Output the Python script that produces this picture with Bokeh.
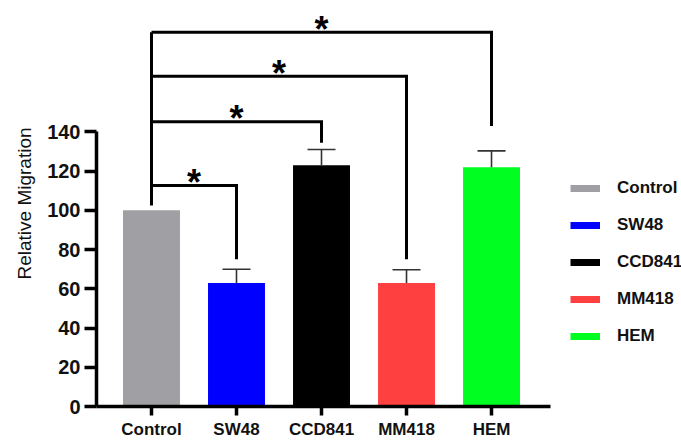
from bokeh.plotting import figure
from bokeh.models import Range1d, FixedTicker, Legend, LegendItem, ColumnDataSource
from bokeh.core.properties import value
from bokeh.embed import file_html
from bokeh.resources import INLINE

# ---- data ----
categories = ["Control", "SW48", "CCD841", "MM418", "HEM"]
means = [100, 63, 123, 63, 122]
errors = [0, 7, 8, 6.7, 8.3]
colors = ["#A0A0A4", "#0000FF", "#000000", "#FF4040", "#00FF20"]
y_ticks = [0, 20, 40, 60, 80, 100, 120, 140]

# significance brackets: Control vs each group
bracket_targets = ["SW48", "CCD841", "MM418", "HEM"]
bracket_levels = [112.6, 145.1, 168.4, 190.8]
bracket_ends = [75, 134.4, 75, 143]
bracket_start = 102.5
bracket_marks = ["*", "*", "*", "*"]

FONT = "Liberation Sans"
NAN = float("nan")

xs = list(range(len(categories)))

p = figure(width=681, height=441, output_backend="svg", toolbar_location=None,
           title=None, min_border_left=96, min_border_right=0,
           min_border_top=0, min_border_bottom=33)
p.x_range = Range1d(-0.647, 6.235)
p.y_range = Range1d(0, 206.96)
p.outline_line_color = None
p.xgrid.visible = False
p.ygrid.visible = False
p.background_fill_color = None
p.border_fill_color = "white"

# bars
src = ColumnDataSource(dict(x=xs, top=means, color=colors, name=categories))
p.vbar(x="x", top="top", width=0.67, bottom=0, fill_color="color",
       line_color=None, source=src)

# error bars (upper only)
ex = [x for x, e in zip(xs, errors) if e > 0]
ey0 = [m for m, e in zip(means, errors) if e > 0]
ey1 = [m + e for m, e in zip(means, errors) if e > 0]
p.segment(x0=ex, x1=ex, y0=ey0, y1=ey1, line_color="#333333", line_width=1.6)
p.scatter(x=ex, y=ey1, marker="dash", size=28, line_color="#333333", line_width=1.6)

# brackets
ctrl = categories.index("Control")
b_xs, b_ys = [], []
for tgt, lvl, end in zip(bracket_targets, bracket_levels, bracket_ends):
    ti = categories.index(tgt)
    b_xs.append([ctrl, ti, ti])
    b_ys.append([lvl, lvl, end])
b_xs.append([ctrl, ctrl])
b_ys.append([bracket_start, max(bracket_levels)])
p.multi_line(xs=b_xs, ys=b_ys, line_color="black", line_width=3,
             line_join="miter", line_cap="butt")

mid_x = [(ctrl + categories.index(t)) / 2 for t in bracket_targets]
p.text(x=mid_x, y=bracket_levels, text=bracket_marks, text_font=value(FONT),
       text_font_style="bold", text_font_size="36px", text_align="center",
       text_baseline="middle", y_offset=-3, text_color="black")

# axes
xa = p.xaxis[0]
xa.ticker = FixedTicker(ticks=xs)
xa.major_label_overrides = {i: c for i, c in zip(xs, categories)}
xa.bounds = (-0.647, 4.694)
xa.axis_line_width = 3.5
xa.axis_line_color = "black"
xa.major_tick_line_width = 3.5
xa.major_tick_out = 9
xa.major_tick_in = 0
xa.minor_tick_line_color = None
xa.major_label_standoff = 4
xa.major_label_text_font = FONT
xa.major_label_text_font_style = "bold"
xa.major_label_text_font_size = "17px"
xa.major_label_text_color = "#111111"

ya = p.yaxis[0]
ya.ticker = FixedTicker(ticks=y_ticks)
ya.bounds = (0, 140)
ya.axis_line_width = 3.5
ya.axis_line_color = "black"
ya.major_tick_line_width = 3.5
ya.major_tick_out = 12
ya.major_tick_in = 0
ya.minor_tick_line_color = None
ya.major_label_standoff = 4
ya.major_label_text_font = FONT
ya.major_label_text_font_style = "bold"
ya.major_label_text_font_size = "20px"
ya.major_label_text_color = "#111111"
ya.axis_label = "Relative Migration"
ya.axis_label_text_font = FONT
ya.axis_label_text_font_style = "normal"
ya.axis_label_text_font_size = "19px"
ya.axis_label_text_color = "#111111"
ya.axis_label_standoff = 9

# legend (swatches drawn by line renderers that hold no visible points)
items = []
for c, col in zip(categories, colors):
    r = p.line(x=[NAN], y=[NAN], line_color=col, line_width=7)
    items.append(LegendItem(label=c, renderers=[r]))
legend = Legend(items=items, location=(474, 60), glyph_width=30, glyph_height=20,
                label_height=20, spacing=17, label_standoff=17, padding=0, margin=0,
                border_line_color=None, background_fill_alpha=0,
                label_text_font=FONT, label_text_font_style="bold",
                label_text_font_size="17px", label_text_color="#111111")
p.add_layout(legend, "center")

open("out.html", "w").write(file_html(p, INLINE))
